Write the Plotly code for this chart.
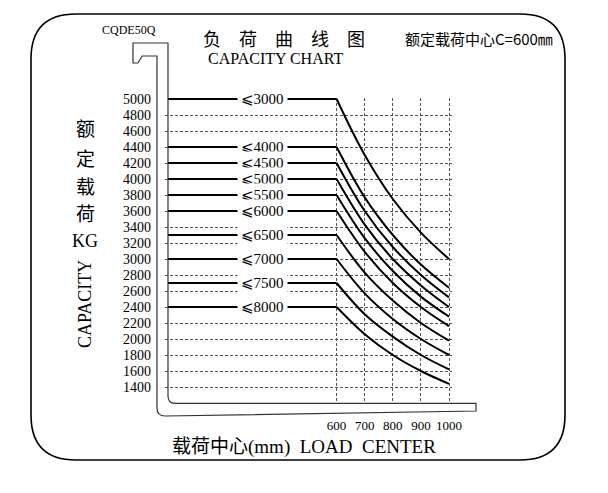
import plotly.graph_objects as go

# ---------------- data ----------------
load_centers = [600, 700, 800, 900, 1000]
flat_span = [0, 600]
lift_labels = ["⩽3000", "⩽4000", "⩽4500", "⩽5000", "⩽5500",
               "⩽6000", "⩽6500", "⩽7000", "⩽7500", "⩽8000"]
rated_caps = [5000, 4400, 4200, 4000, 3800, 3600, 3300, 3000, 2700, 2400]
cap_3000 = [5000, 4300, 3750, 3330, 3000]
cap_4000 = [4400, 3770, 3300, 2930, 2640]
cap_4500 = [4200, 3600, 3150, 2800, 2520]
cap_5000 = [4000, 3430, 3000, 2670, 2400]
cap_5500 = [3800, 3260, 2850, 2530, 2280]
cap_6000 = [3600, 3090, 2700, 2400, 2160]
cap_6500 = [3300, 2830, 2480, 2200, 1980]
cap_7000 = [3000, 2570, 2250, 2000, 1800]
cap_7500 = [2700, 2310, 2030, 1800, 1620]
cap_8000 = [2400, 2060, 1800, 1600, 1440]
curves = [cap_3000, cap_4000, cap_4500, cap_5000, cap_5500,
          cap_6000, cap_6500, cap_7000, cap_7500, cap_8000]
y_ticks = [1400, 1600, 1800, 2000, 2200, 2400, 2600, 2800, 3000, 3200,
           3400, 3600, 3800, 4000, 4200, 4400, 4600, 4800, 5000]
x_ticks = [600, 700, 800, 900, 1000]
label_pos = 338

# ---------------- layout geometry ----------------
OFF = 8  # page body margin
W, H = 608 - OFF, 493 - OFF
L, T = 165 - OFF, 98 - OFF
PW, PH = 287, 306
R, B = W - L - PW, H - T - PH


def px(x):
    return (x - OFF - L) / PW


def py(y):
    return (T + PH - (y - OFF)) / PH


def pt(x, y):
    return f"{px(x):.5f},{py(y):.5f}"


fig = go.Figure()

for vals, q0 in zip(curves, rated_caps):
    fig.add_trace(go.Scatter(x=flat_span, y=[q0, q0], mode="lines",
                             line=dict(color="black", width=2),
                             showlegend=False, hoverinfo="skip"))
    fig.add_trace(go.Scatter(x=load_centers, y=vals, mode="lines",
                             line=dict(color="black", width=2, shape="spline"),
                             showlegend=False, hoverinfo="skip"))

serif = "Liberation Serif, DejaVu Sans, Noto Sans CJK SC"
cjk = "Noto Sans CJK SC"

annotations = []
for lab, q0 in zip(lift_labels, rated_caps):
    annotations.append(dict(x=label_pos, y=q0, xref="x", yref="y", text=lab,
                            showarrow=False, bgcolor="white", borderpad=3,
                            font=dict(family=serif, size=15, color="black")))


def txt(x, y, s, size, family, angle=0, xanchor="center"):
    annotations.append(dict(x=px(x), y=py(y), xref="paper", yref="paper",
                            text=s, showarrow=False, textangle=angle,
                            xanchor=xanchor, yanchor="middle",
                            font=dict(family=family, size=size, color="black")))


txt(129, 30, "CQDE50Q", 12, serif)
txt(284, 38, "负　荷　曲　线　图", 18, cjk)
txt(275, 58, "CAPACITY CHART", 16, serif)
txt(479, 38, "额定载荷中心C=600㎜", 15, cjk)
txt(85, 127, "额", 19, cjk)
txt(85, 157, "定", 19, cjk)
txt(85, 185, "载", 19, cjk)
txt(85, 212, "荷", 19, cjk)
txt(85, 241, "KG", 18, serif)
txt(85, 304, "CAPACITY", 18, serif, angle=-90)
txt(304, 447, "载荷中心(mm)  LOAD  CENTER", 19, serif)

r = 45
x0, y0, x1, y1 = 31, 14, 565, 460
frame = (f"M {pt(x0 + r, y0)} L {pt(x1 - r, y0)} Q {pt(x1, y0)} {pt(x1, y0 + r)} "
         f"L {pt(x1, y1 - r)} Q {pt(x1, y1)} {pt(x1 - r, y1)} "
         f"L {pt(x0 + r, y1)} Q {pt(x0, y1)} {pt(x0, y1 - r)} "
         f"L {pt(x0, y0 + r)} Q {pt(x0, y0)} {pt(x0 + r, y0)} Z")
fork = (f"M {pt(168, 43)} L {pt(133, 43)} L {pt(133, 63)} L {pt(138, 63)} "
        f"L {pt(142, 56)} L {pt(157, 56)} L {pt(157, 408)} Q {pt(157, 416)} {pt(165, 416)} "
        f"L {pt(476, 411)} L {pt(476, 403.3)} L {pt(175, 403.3)} "
        f"Q {pt(168, 403.3)} {pt(168, 396)} Z")

shapes = [
    dict(type="path", path=frame, xref="paper", yref="paper",
         line=dict(color="black", width=1.6)),
    dict(type="path", path=fork, xref="paper", yref="paper",
         line=dict(color="#333333", width=1.2)),
]

# axis ranges: 0 mm at page x=168, 1000 mm at 449; 5000 kg at page y=99
x_lo = 0 - (168 - OFF - L) / 0.281
x_hi = x_lo + PW / 0.281
y_hi = 5000 + (99 - OFF - T) / 0.08
y_lo = y_hi - PH / 0.08

grid = dict(showgrid=True, gridcolor="#555555", gridwidth=1, griddash="3px,2px",
            zeroline=False, showline=False, ticks="")

fig.update_layout(
    width=W, height=H,
    margin=dict(l=L, r=R, t=T, b=B, pad=0),
    paper_bgcolor="white", plot_bgcolor="white",
    xaxis=dict(range=[x_lo, x_hi], tickvals=x_ticks,
               ticktext=[str(v) for v in x_ticks], ticklabelstandoff=12,
               tickfont=dict(family=serif, size=13, color="black"), **grid),
    yaxis=dict(range=[y_lo, y_hi], tickvals=y_ticks,
               ticktext=[str(v) for v in y_ticks], ticklabelstandoff=13,
               tickfont=dict(family=serif, size=14, color="black"), **grid),
    annotations=annotations,
    shapes=shapes,
    showlegend=False,
)

fig.write_html("out.html")
